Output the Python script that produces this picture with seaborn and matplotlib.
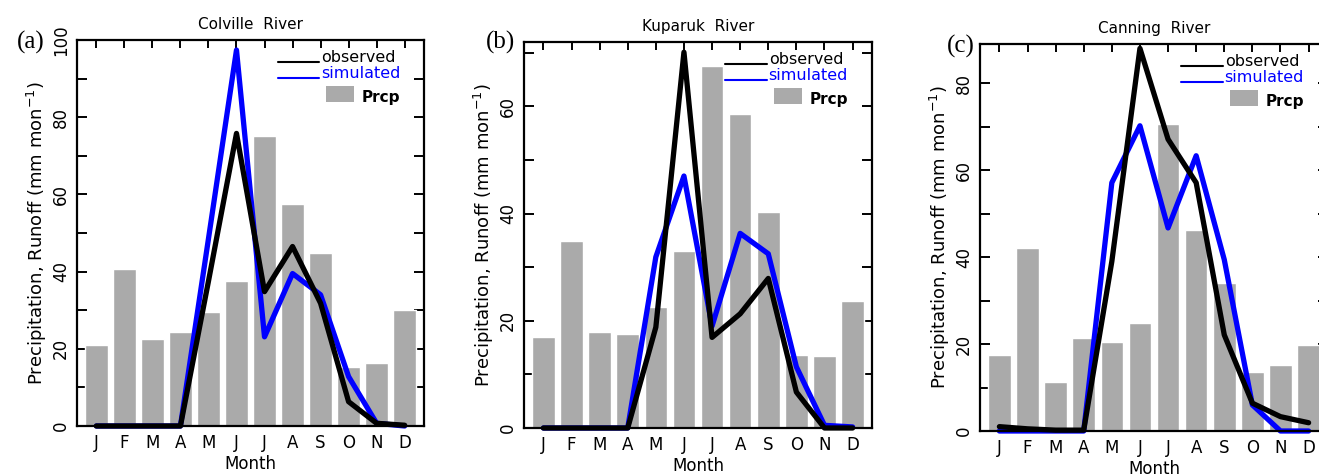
import matplotlib
matplotlib.use("Agg")
import matplotlib.pyplot as plt
import numpy as np
import pandas as pd
import seaborn as sns
from matplotlib.patches import Rectangle
from matplotlib.ticker import MultipleLocator

# monthly values (mm mon^-1)
months = ["Jan", "Feb", "Mar", "Apr", "May", "Jun",
          "Jul", "Aug", "Sep", "Oct", "Nov", "Dec"]
month_letters = ["J", "F", "M", "A", "M", "J", "J", "A", "S", "O", "N", "D"]

colville_prcp = [21.0, 40.7, 22.5, 24.4, 29.5, 37.6, 75.1, 57.5, 44.8, 15.3, 16.3, 30.0]
colville_obs = [0.0, 0.0, 0.0, 0.0, 37.5, 75.8, 34.8, 46.5, 31.8, 6.3, 0.7, 0.2]
colville_sim = [0.0, 0.0, 0.0, 0.0, 48.5, 97.4, 23.1, 39.5, 34.0, 12.8, 0.7, 0.0]

kuparuk_prcp = [16.9, 34.8, 18.0, 17.5, 22.5, 33.1, 67.5, 58.6, 40.2, 13.6, 13.4, 23.6]
kuparuk_obs = [0.0, 0.0, 0.0, 0.0, 18.8, 70.1, 16.9, 21.3, 27.9, 6.7, 0.0, 0.0]
kuparuk_sim = [0.0, 0.0, 0.0, 0.0, 31.9, 47.0, 19.0, 36.3, 32.5, 11.4, 0.5, 0.2]

canning_prcp = [17.5, 42.1, 11.2, 21.4, 20.4, 24.8, 70.5, 46.3, 34.0, 13.6, 15.1, 19.8]
canning_obs = [1.0, 0.5, 0.2, 0.2, 39.0, 88.0, 67.1, 57.1, 22.1, 6.4, 3.3, 1.9]
canning_sim = [0.0, 0.0, 0.0, 0.0, 57.1, 70.2, 46.7, 63.3, 39.4, 6.0, 0.0, 0.0]

panels = [
    ("(a)", "Colville  River", colville_prcp, colville_obs, colville_sim, 100),
    ("(b)", "Kuparuk  River", kuparuk_prcp, kuparuk_obs, kuparuk_sim, 72),
    ("(c)", "Canning  River", canning_prcp, canning_obs, canning_sim, 89),
]

sns.set_style("ticks")
plt.rcParams["font.family"] = ["DejaVu Sans"]
plt.rcParams.update({
    "text.color": "black",
    "axes.labelcolor": "black",
    "axes.edgecolor": "black",
    "xtick.color": "black",
    "ytick.color": "black",
})

W, H = 1319, 474
fig = plt.figure(figsize=(W / 100, H / 100), dpi=100)

# axes boxes in pixels: left, right, top, bottom
boxes = [(77, 424, 40, 426), (524, 872, 42, 428), (980, 1328, 44, 431)]
letter_pos = [(45, 42), (515, 42), (975, 46)]

for (tag, title, prcp, obs, sim, ymax), (l, r, t, b), (lx, ly) in zip(panels, boxes, letter_pos):
    ax = fig.add_axes([l / W, (H - b) / H, (r - l) / W, (b - t) / H])
    df = pd.DataFrame({"month": months, "prcp": prcp, "obs": obs, "sim": sim})
    df["pos"] = np.arange(len(months))

    sns.barplot(data=df, x="month", y="prcp", color="#aaaaaa", saturation=1,
                width=0.8, ax=ax, zorder=1)
    sns.lineplot(data=df, x="pos", y="sim", color="#0000ff", lw=3.8, ax=ax,
                 clip_on=False, zorder=3)
    sns.lineplot(data=df, x="pos", y="obs", color="black", lw=3.8, ax=ax,
                 clip_on=False, zorder=4)

    ax.set_xlim(-0.69, 11.69)
    ax.set_ylim(0, ymax)
    ax.set_xticks(np.arange(12))
    ax.set_xticklabels(month_letters)
    ax.yaxis.set_major_locator(MultipleLocator(20))
    ax.yaxis.set_minor_locator(MultipleLocator(10))

    ax.tick_params(axis="x", which="both", bottom=False, top=True,
                   labelbottom=True, direction="in", length=6, width=1.4,
                   labelsize=12, pad=6)
    ax.tick_params(axis="y", which="both", left=True, right=True,
                   direction="in", length=7, width=1.4, labelsize=12, pad=5)
    for lab in ax.get_yticklabels():
        lab.set_rotation(90)
        lab.set_va("center")
    for sp in ax.spines.values():
        sp.set_linewidth(1.6)
        sp.set_zorder(5)

    ax.set_xlabel("Month", fontsize=12, labelpad=2)
    ax.set_ylabel("Precipitation, Runoff (mm mon$^{-1}$)", fontsize=13, labelpad=2)
    ax.set_title(title, fontsize=11, pad=8)

    # hand-drawn legend like the original
    ax.plot([0.579, 0.697], [0.943, 0.943], transform=ax.transAxes,
            color="black", lw=1.5, clip_on=False)
    ax.text(0.703, 0.943, "observed", transform=ax.transAxes, fontsize=11.5,
            va="baseline", ha="left", color="black")
    ax.plot([0.579, 0.697], [0.902, 0.902], transform=ax.transAxes,
            color="#0000ff", lw=1.5, clip_on=False)
    ax.text(0.703, 0.902, "simulated", transform=ax.transAxes, fontsize=11.5,
            va="baseline", ha="left", color="#0000ff")
    ax.add_patch(Rectangle((0.718, 0.839), 0.08, 0.042, transform=ax.transAxes,
                           facecolor="#aaaaaa", edgecolor="none", clip_on=False))
    ax.text(0.821, 0.852, "Prcp", transform=ax.transAxes, fontsize=11,
            fontweight="bold", va="center", ha="left")

    fig.text(lx / W, (H - ly) / H, tag, fontsize=18, ha="right", va="center",
             family=["Liberation Serif", "DejaVu Serif"])

fig.savefig("out.png", dpi=100)
